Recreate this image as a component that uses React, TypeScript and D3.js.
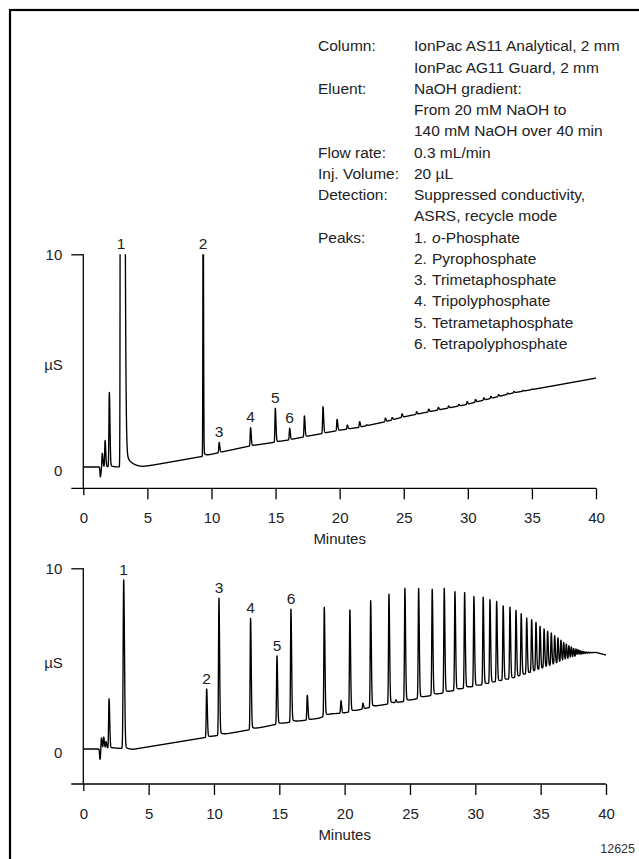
import React, { useEffect, useRef } from "react";
import * as d3 from "d3";

const FONT = "'Liberation Sans', Arial, Helvetica, sans-serif";

// run conditions block
const conditionLabels = ["Column:", "", "Eluent:", "", "", "Flow rate:", "Inj. Volume:", "Detection:", "", "Peaks:"];
const conditionValues = [
	"IonPac AS11 Analytical, 2 mm",
	"IonPac AG11 Guard, 2 mm",
	"NaOH gradient:",
	"From 20 mM NaOH to",
	"140 mM NaOH over 40 min",
	"0.3 mL/min",
	"20 µL",
	"Suppressed conductivity,",
	"ASRS, recycle mode",
];
const peakNames = ["Pyrophosphate", "Trimetaphosphate", "Tripolyphosphate", "Tetrametaphosphate", "Tetrapolyphosphate"];

const minuteTicks = [0, 5, 10, 15, 20, 25, 30, 35, 40];
const yTicks = [0, 10];
const peakLabels = ["1", "2", "3", "4", "5", "6"];

// upper chromatogram: retention time (min) and apex reading (µS); 200 / 14 are off-scale
const topPeakTimes = [1.33, 1.48, 1.7, 2.03, 2.95, 9.35, 10.6, 13.05, 14.98, 16.1, 17.25, 18.7, 19.8, 20.6, 21.56, 22.1, 23.57, 24.1, 24.87, 26.0, 26.95, 27.7, 28.5, 29.3, 29.95, 30.6, 31.25, 31.8, 32.4, 33.1, 33.6, 34.3, 35.0];
const topPeakApex = [-0.46, 0.65, 1.24, 3.5, 200, 14, 1.15, 1.85, 2.76, 1.82, 2.4, 2.83, 2.24, 1.97, 2.13, 1.98, 2.3, 2.32, 2.5, 2.6, 2.72, 2.8, 2.87, 2.94, 3.07, 3.17, 3.25, 3.32, 3.4, 3.47, 3.55, 3.6, 3.66];
const topBaseTimes = [0, 1.2, 2.25, 2.85, 4.6, 9.3, 10.6, 13.0, 15.0, 16.1, 17.25, 18.7, 19.8, 21.56, 23.57, 24.87, 26.0, 27.0, 30.0, 30.6, 33.6, 36.7, 40];
const topBaseVals = [0, 0, 0, 0, 0, 0.5, 0.68, 0.99, 1.17, 1.28, 1.42, 1.58, 1.71, 1.87, 2.13, 2.34, 2.48, 2.6, 2.95, 3.05, 3.49, 3.82, 4.18];
const topLabelTimes = [2.95, 9.35, 10.6, 13.05, 14.98, 16.1];

// lower chromatogram
const bottomPeakTimes = [1.28, 1.38, 1.56, 1.74, 1.97, 3.09, 9.44, 10.38, 12.8, 14.82, 15.89, 17.14, 18.44, 19.72, 20.4, 21.4, 21.99, 23.39, 23.92, 24.61, 25.66, 26.7, 27.62, 28.44, 29.18, 29.89, 30.6, 31.12, 31.63, 32.13, 32.65, 33.11, 33.51, 33.93, 34.31, 34.64, 34.95, 35.26, 35.53, 35.81, 36.07, 36.32, 36.55, 36.76, 36.96, 37.16, 37.34, 37.52, 37.7, 37.85, 38.0, 38.16, 38.31, 38.47, 38.62, 38.78, 38.93];
const bottomPeakApex = [-0.57, 0.68, 0.65, 0.4, 2.77, 9.35, 3.32, 8.34, 7.23, 5.15, 7.73, 2.97, 7.84, 2.67, 7.69, 2.53, 8.21, 8.56, 2.71, 8.89, 8.89, 8.84, 8.89, 8.7, 8.65, 8.43, 8.4, 8.25, 8.15, 7.91, 7.84, 7.65, 7.47, 7.23, 7.14, 6.99, 6.77, 6.62, 6.49, 6.4, 6.25, 6.13, 6.0, 5.88, 5.79, 5.7, 5.63, 5.55, 5.52, 5.48, 5.44, 5.4, 5.38, 5.36, 5.35, 5.35, 5.34];
const bottomBaseTimes = [0, 1.2, 2.3, 3.0, 3.8, 9.44, 10.46, 12.9, 14.8, 15.9, 17.1, 18.0, 19.0, 20.0, 20.85, 21.6, 22.6, 23.65, 24.9, 26.2, 27.1, 28.0, 28.75, 29.5, 30.2, 30.9, 32.9, 34.1, 35.4, 36.7, 37.8, 38.5, 39.2, 40];
const bottomBaseVals = [0, 0, 0.05, 0.03, -0.02, 0.65, 0.77, 1.09, 1.37, 1.49, 1.6, 1.7, 1.94, 2.0, 2.12, 2.25, 2.4, 2.53, 2.67, 2.9, 3.03, 3.17, 3.3, 3.41, 3.5, 3.6, 3.91, 4.19, 4.52, 4.83, 5.07, 5.26, 5.35, 5.2];
const bottomLabelTimes = [3.09, 9.44, 10.38, 12.8, 14.82, 15.89];

type Shape = { sL: number; sR: number; tailA?: number; tau: number };

function buildTrace(times: number[], apex: number[], baseT: number[], baseV: number[], shape: Shape, overrides: Map<number, Shape>) {
	const base = d3.scaleLinear().domain(baseT).range(baseV).clamp(true);
	const peaks = times.map((t0, i) => {
		const s = overrides.get(t0) || shape;
		const h = apex[i] - base(t0);
		return { t0, h, sL: s.sL, sR: s.sR, tau: s.tau, tailA: s.tailA ?? h * 0.03 };
	});
	return d3.range(0, 40.0001, 0.004).map((t) => {
		let v = base(t);
		for (const p of peaks) {
			const d = t - p.t0;
			if (d < -6 * p.sL || d > 6 * p.sR + 10 * p.tau) continue;
			if (d < 0) v += p.h * Math.exp(-0.5 * (d / p.sL) ** 2);
			else v += p.h * Math.exp(-0.5 * (d / p.sR) ** 2) + p.tailA * (1 - Math.exp(-d / p.sR)) * Math.exp(-d / p.tau);
		}
		return [t, v] as [number, number];
	});
}

const panels = [
	{
		id: "top",
		xr: [83.3, 596],
		yr: [467, 254.3],
		axisY: 488.3,
		trace: buildTrace(topPeakTimes, topPeakApex, topBaseTimes, topBaseVals, { sL: 0.03, sR: 0.05, tau: 0.2 },
			new Map<number, Shape>([
				[2.95, { sL: 0.033, sR: 0.135, tailA: 1.5, tau: 0.42 }],
				[9.35, { sL: 0.02, sR: 0.03, tailA: 0.2, tau: 0.15 }],
			])),
		peakTimes: topPeakTimes,
		peakApex: topPeakApex,
		labelTimes: topLabelTimes,
	},
	{
		id: "bottom",
		xr: [83.3, 606],
		yr: [749, 568.3],
		axisY: 784,
		trace: buildTrace(bottomPeakTimes, bottomPeakApex, bottomBaseTimes, bottomBaseVals, { sL: 0.032, sR: 0.05, tau: 0.2 },
			new Map<number, Shape>([[3.09, { sL: 0.04, sR: 0.06, tailA: 0.25, tau: 0.15 }]])),
		peakTimes: bottomPeakTimes,
		peakApex: bottomPeakApex,
		labelTimes: bottomLabelTimes,
	},
];

const App: React.FC = () => {
	const ref = useRef<SVGSVGElement>(null);

	useEffect(() => {
		const svg = d3.select(ref.current);
		svg.selectAll("*").remove();

		svg.append("rect").attr("width", 639).attr("height", 859).attr("fill", "#fff");
		svg.append("rect")
			.attr("x", 10).attr("y", 10).attr("width", 700).attr("height", 900)
			.attr("fill", "none").attr("stroke", "#000").attr("stroke-width", 2.2);

		panels.forEach((p) => {
			const x = d3.scaleLinear().domain([0, 40]).range(p.xr);
			const y = d3.scaleLinear().domain([0, 10]).range(p.yr);
			const g = svg.append("g");

			// x axis
			const xa = g.append("g")
				.attr("transform", `translate(0,${p.axisY})`)
				.call(d3.axisBottom(x).tickValues(minuteTicks).tickSize(11).tickPadding(13).tickFormat(d3.format("d")));
			xa.select(".domain").remove();
			xa.selectAll(".tick line").filter((d) => d === 0).attr("y2", 7);
			xa.append("line").attr("x1", x(0) - 12).attr("x2", x(40)).attr("stroke", "#000");
			xa.selectAll("line").attr("stroke", "#000").attr("stroke-width", 1.3);
			xa.selectAll("text").attr("fill", "#222").attr("font-size", 15).attr("font-family", FONT);
			xa.append("text")
				.attr("x", x(20)).attr("y", 56)
				.attr("text-anchor", "middle").attr("fill", "#222")
				.attr("font-size", 15).attr("font-family", FONT)
				.text("Minutes");

			// y axis
			const ya = g.append("g")
				.attr("transform", `translate(${x(0)},0)`)
				.call(d3.axisLeft(y).tickValues(yTicks).tickSize(12).tickPadding(9));
			ya.select(".domain").remove();
			ya.selectAll(".tick").filter((d) => d === 0).select("line").remove();
			ya.selectAll(".tick").filter((d) => d === 0).select("text").attr("y", 3.5);
			ya.append("line").attr("y1", y(10)).attr("y2", p.axisY);
			ya.selectAll("line").attr("stroke", "#000").attr("stroke-width", 1.3);
			ya.selectAll("text").attr("fill", "#222").attr("font-size", 15).attr("font-family", FONT);
			g.append("text")
				.attr("x", 53.5).attr("y", (y(0) + y(10)) / 2 + 3.5).attr("dy", "0.36em")
				.attr("text-anchor", "middle").attr("fill", "#222")
				.attr("font-size", 15).attr("font-family", FONT)
				.text("µS");

			// trace, clipped at full scale
			svg.append("clipPath").attr("id", `clip-${p.id}`)
				.append("rect").attr("x", 0).attr("y", y(10)).attr("width", 639).attr("height", 859);
			const line = d3.line<[number, number]>().x((d) => x(d[0])).y((d) => y(d[1]));
			g.append("path")
				.attr("clip-path", `url(#clip-${p.id})`)
				.attr("d", line(p.trace))
				.attr("fill", "none").attr("stroke", "#000")
				.attr("stroke-width", 1.35).attr("stroke-linejoin", "round");

			// peak numbers
			p.labelTimes.forEach((t, i) => {
				const apex = Math.min(10, p.peakApex[p.peakTimes.indexOf(t)]);
				g.append("text")
					.attr("x", x(t)).attr("y", y(apex) - 11).attr("dy", "0.36em")
					.attr("text-anchor", "middle").attr("fill", "#222")
					.attr("font-size", 15.5).attr("font-family", FONT)
					.text(peakLabels[i]);
			});
		});

		// conditions block
		const info = svg.append("g").attr("font-family", FONT).attr("font-size", 15.5).attr("fill", "#222");
		const lineY = (i: number) => 45.8 + i * 21.25;
		conditionLabels.forEach((s, i) => {
			if (s) info.append("text").attr("x", 318).attr("y", lineY(i)).attr("dy", "0.36em").text(s);
		});
		conditionValues.forEach((s, i) => {
			info.append("text").attr("x", 414).attr("y", lineY(i)).attr("dy", "0.36em").text(s);
		});
		const first = info.append("text").attr("y", lineY(9)).attr("dy", "0.36em");
		info.append("text").attr("x", 414).attr("y", lineY(9)).attr("dy", "0.36em").text("1.");
		first.attr("x", 432);
		first.append("tspan").attr("font-style", "italic").text("o");
		first.append("tspan").text("-Phosphate");
		peakNames.forEach((s, i) => {
			info.append("text").attr("x", 414).attr("y", lineY(10 + i)).attr("dy", "0.36em").text(`${i + 2}.`);
			info.append("text").attr("x", 432).attr("y", lineY(10 + i)).attr("dy", "0.36em").text(s);
		});

		svg.append("text")
			.attr("x", 635).attr("y", 848.3).attr("dy", "0.36em")
			.attr("text-anchor", "end").attr("fill", "#333")
			.attr("font-size", 12.5).attr("font-family", FONT)
			.text("12625");
	}, []);

	return (
		<svg
			ref={ref}
			width={639}
			height={859}
			viewBox="0 0 639 859"
			style={{ position: "absolute", left: 0, top: 0, display: "block" }}
		/>
	);
};

export default App;
